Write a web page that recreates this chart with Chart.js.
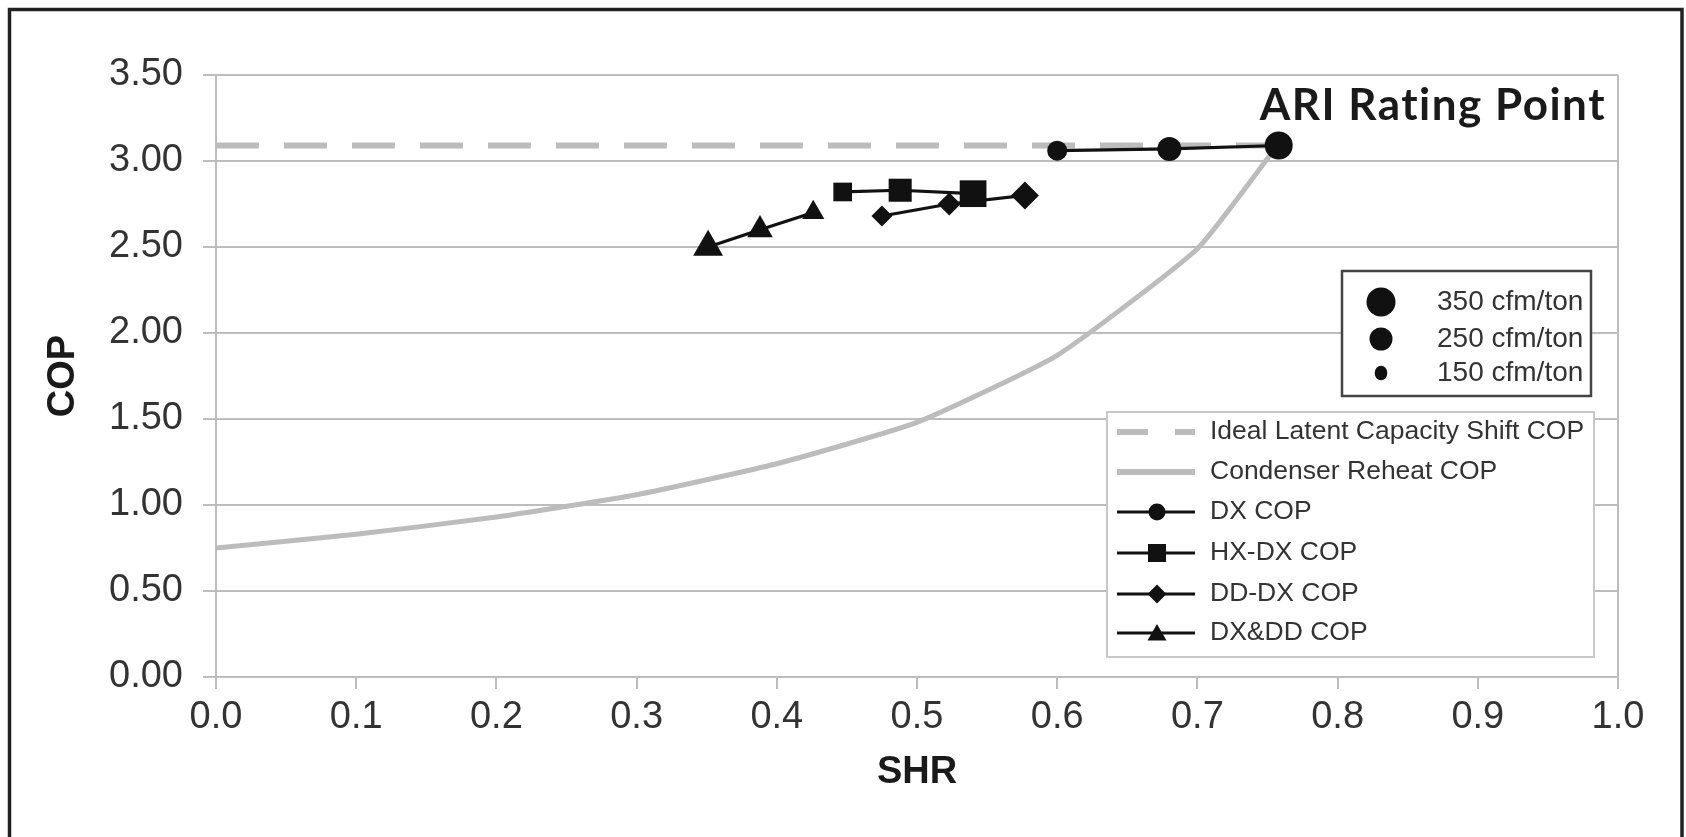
<!DOCTYPE html>
<html>
<head>
  <title>COP vs SHR</title>
  <meta http-equiv="Content-Type" content="text/html; charset=utf-8" />
  <script src="https://cdn.jsdelivr.net/npm/chart.js@4.4.1/dist/chart.umd.min.js"></script>
  <style>
    body {
      margin: 0;
      background-color: #ffffff;
    }
    #wrap {
      position: relative;
      width: 1686px;
      height: 837px;
    }
  </style>
</head>
<body>
  <div id="wrap">
    <canvas id="copChart" width="1686" height="837"></canvas>
  </div>
  <script>
    // values
    var xTicks = [0, 0.1, 0.2, 0.3, 0.4, 0.5, 0.6, 0.7, 0.8, 0.9, 1.0];
    var yTicks = [0, 0.5, 1.0, 1.5, 2.0, 2.5, 3.0, 3.5];

    var idealShr = [0, 0.757];
    var idealCop = [3.09, 3.09];

    var reheatShr = [0, 0.1, 0.2, 0.3, 0.4, 0.5, 0.6, 0.7, 0.757];
    var reheatCop = [0.75, 0.83, 0.93, 1.06, 1.24, 1.48, 1.87, 2.49, 3.09];

    var airflows = ["350 cfm/ton", "250 cfm/ton", "150 cfm/ton"];

    var dxShr = [0.600, 0.680, 0.758];
    var dxCop = [3.06, 3.07, 3.09];

    var hxShr = [0.447, 0.488, 0.540];
    var hxCop = [2.82, 2.83, 2.81];

    var ddShr = [0.475, 0.523, 0.577];
    var ddCop = [2.68, 2.75, 2.80];

    var dxddShr = [0.351, 0.388, 0.426];
    var dxddCop = [2.50, 2.60, 2.70];

    var seriesNames = ["Ideal Latent Capacity Shift COP", "Condenser Reheat COP",
                       "DX COP", "HX-DX COP", "DD-DX COP", "DX&DD COP"];

    function pts(xs, ys) {
      return xs.map(function (x, i) { return { x: x, y: ys[i] }; });
    }

    var gridColor = "#bdbdbd";
    var lightGray = "#bcbcbc";
    var ink = "#111111";
    var textColor = "#333333";
    var fontFamily = "'Liberation Sans', Arial, sans-serif";

    function markerSet(name, xs, ys, style, radii, ord) {
      return {
        label: name,
        data: pts(xs, ys),
        showLine: true,
        borderColor: ink,
        borderWidth: 3.2,
        backgroundColor: ink,
        pointStyle: style,
        pointRadius: radii,
        pointBorderWidth: 0,
        pointBackgroundColor: ink,
        order: ord
      };
    }

    function shape(ctx, style, x, y, r) {
      ctx.beginPath();
      if (style === "circle") {
        ctx.arc(x, y, r, 0, Math.PI * 2);
      } else if (style === "rect") {
        ctx.rect(x - r, y - r, 2 * r, 2 * r);
      } else if (style === "rectRot") {
        ctx.moveTo(x - r, y);
        ctx.lineTo(x, y - r);
        ctx.lineTo(x + r, y);
        ctx.lineTo(x, y + r);
        ctx.closePath();
      } else if (style === "triangle") {
        ctx.moveTo(x, y - r);
        ctx.lineTo(x + 0.866 * r, y + 0.5 * r);
        ctx.lineTo(x - 0.866 * r, y + 0.5 * r);
        ctx.closePath();
      }
      ctx.fill();
    }

    // draws the frame, the note and both legend boxes
    var extras = {
      id: "extras",
      afterDraw: function (chart) {
        var ctx = chart.ctx;
        ctx.save();

        // outer frame
        ctx.strokeStyle = "#222222";
        ctx.lineWidth = 3.5;
        ctx.strokeRect(9.5, 9.5, 1672.5, 900);

        // ARI label
        ctx.fillStyle = "#1a1a1a";
        ctx.font = "bold 44px Lato, 'Liberation Sans', sans-serif";
        ctx.letterSpacing = "1.5px";
        ctx.textAlign = "right";
        ctx.textBaseline = "alphabetic";
        ctx.fillText("ARI Rating Point", 1606, 120);
        ctx.letterSpacing = "0px";

        // airflow legend
        ctx.fillStyle = "#ffffff";
        ctx.fillRect(1342, 271, 249, 125);
        ctx.strokeStyle = "#444444";
        ctx.lineWidth = 2.5;
        ctx.strokeRect(1342, 271, 249, 125);
        var aRows = [302, 339, 373];
        ctx.fillStyle = ink;
        shape(ctx, "circle", 1381, aRows[0], 14.5);
        shape(ctx, "circle", 1381, aRows[1], 11.5);
        ctx.beginPath();
        ctx.ellipse(1381, aRows[2], 6.3, 7.3, 0, 0, Math.PI * 2);
        ctx.fill();
        ctx.fillStyle = textColor;
        ctx.font = "28px " + fontFamily;
        ctx.textAlign = "left";
        ctx.textBaseline = "middle";
        airflows.forEach(function (a, i) { ctx.fillText(a, 1437, aRows[i]); });

        // series legend
        var L = 1107, T = 412, W = 487, H = 245;
        ctx.fillStyle = "#ffffff";
        ctx.fillRect(L, T, W, H);
        ctx.strokeStyle = "#c8c8c8";
        ctx.lineWidth = 2;
        ctx.strokeRect(L, T, W, H);
        var rows = [432, 472, 512, 553, 594, 633];
        var x0 = 1117, x1 = 1195, xm = 1157;

        ctx.lineCap = "butt";
        ctx.strokeStyle = lightGray;
        ctx.lineWidth = 6;
        ctx.setLineDash([31, 27]);
        ctx.beginPath(); ctx.moveTo(x0, rows[0]); ctx.lineTo(x1, rows[0]); ctx.stroke();
        ctx.setLineDash([]);
        ctx.beginPath(); ctx.moveTo(x0, rows[1]); ctx.lineTo(x1, rows[1]); ctx.stroke();

        var styles = ["circle", "rect", "rectRot", "triangle"];
        var lr = [8.5, 9, 9.5, 11];
        ctx.strokeStyle = ink;
        ctx.fillStyle = ink;
        ctx.lineWidth = 3;
        for (var i = 0; i < 4; i++) {
          var y = rows[i + 2];
          ctx.beginPath(); ctx.moveTo(x0, y); ctx.lineTo(x1, y); ctx.stroke();
          shape(ctx, styles[i], xm, styles[i] === "triangle" ? y + 2 : y, lr[i]);
        }

        ctx.fillStyle = textColor;
        ctx.font = "26.5px " + fontFamily;
        seriesNames.forEach(function (n, i) { ctx.fillText(n, 1210, rows[i]); });

        ctx.restore();
      }
    };

    var ctxCop = document.getElementById("copChart");
    var copChart = new Chart(ctxCop, {
      type: "scatter",
      data: {
        datasets: [
          {
            label: seriesNames[0],
            data: pts(idealShr, idealCop),
            showLine: true,
            borderColor: lightGray,
            borderWidth: 6,
            borderDash: [43, 25],
            pointRadius: 0,
            order: 10
          },
          {
            label: seriesNames[1],
            data: pts(reheatShr, reheatCop),
            showLine: true,
            borderColor: lightGray,
            borderWidth: 5,
            tension: 0.15,
            pointRadius: 0,
            order: 9
          },
          markerSet(seriesNames[2], dxShr, dxCop, "circle", [10, 12, 14], 4),
          markerSet(seriesNames[3], hxShr, hxCop, "rect", [13.2, 16.3, 18.9], 3),
          markerSet(seriesNames[4], ddShr, ddCop, "rectRot", [10.5, 11.5, 14], 2),
          markerSet(seriesNames[5], dxddShr, dxddCop, "triangle", [17.3, 14.8, 12.8], 1)
        ]
      },
      options: {
        responsive: false,
        animation: false,
        layout: {
          padding: { top: 75, right: 68, left: 0, bottom: 0 }
        },
        plugins: {
          legend: { display: false },
          tooltip: { enabled: false }
        },
        scales: {
          x: {
            type: "linear",
            min: 0,
            max: 1,
            afterBuildTicks: function (s) { s.ticks = xTicks.map(function (v) { return { value: v }; }); },
            afterFit: function (s) { s.height = 160; },
            ticks: {
              color: textColor,
              font: { family: fontFamily, size: 38 },
              padding: 6,
              maxRotation: 0,
              callback: function (v) { return Number(v).toFixed(1); }
            },
            grid: {
              color: function (c) { return c.tick && c.tick.value === 1 ? gridColor : "transparent"; },
              tickColor: gridColor,
              tickLength: 12,
              lineWidth: 2
            },
            border: { color: gridColor, width: 2 },
            title: {
              display: true,
              text: "SHR",
              color: "#1a1a1a",
              font: { family: fontFamily, size: 38, weight: "bold" },
              padding: { top: 0, bottom: 42 }
            }
          },
          y: {
            type: "linear",
            min: 0,
            max: 3.5,
            afterBuildTicks: function (s) { s.ticks = yTicks.map(function (v) { return { value: v }; }); },
            afterFit: function (s) { s.width = 216; },
            ticks: {
              color: textColor,
              font: { family: fontFamily, size: 38 },
              padding: 20,
              callback: function (v) { return Number(v).toFixed(2); }
            },
            grid: {
              color: gridColor,
              tickColor: gridColor,
              tickLength: 13,
              lineWidth: 2
            },
            border: { color: gridColor, width: 2 },
            title: {
              display: true,
              text: "COP",
              color: "#1a1a1a",
              font: { family: fontFamily, size: 38, weight: "bold" },
              padding: { top: 41, bottom: 0 }
            }
          }
        }
      },
      plugins: [extras]
    });
  </script>
</body>
</html>
